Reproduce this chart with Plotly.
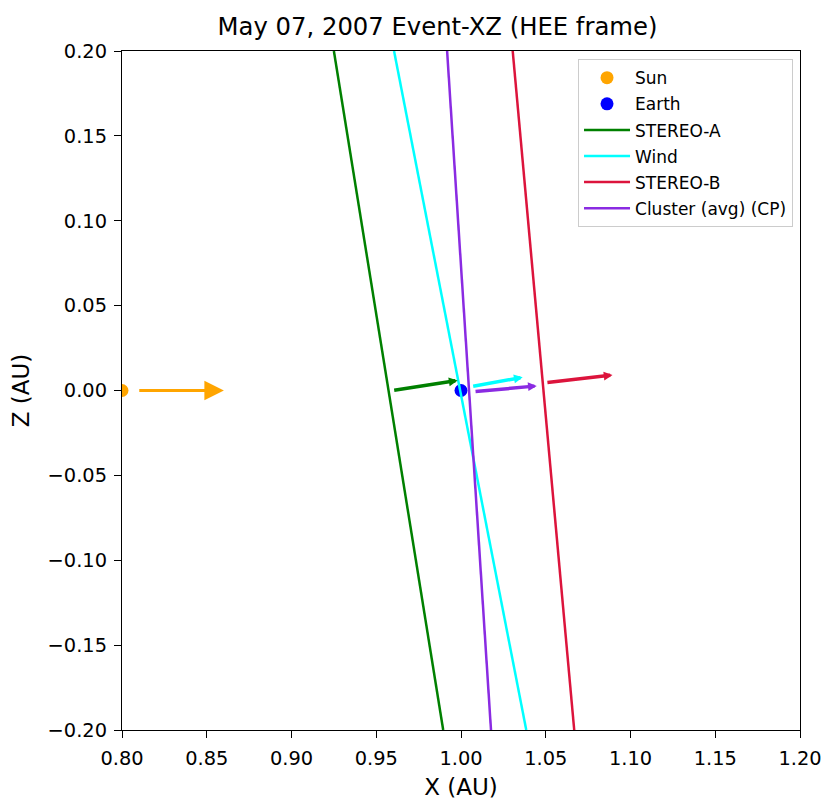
import plotly.graph_objects as go

# Boundary lines (x at z=+0.2 and z=-0.2)
line_names = ["STEREO-A", "Wind", "STEREO-B", "Cluster (avg) (CP)"]
line_colors = ["green", "cyan", "crimson", "blueviolet"]
line_z = [0.20, -0.20]
line_x = {
    "STEREO-A": [0.925, 0.9895],
    "Wind": [0.9605, 1.0385],
    "STEREO-B": [1.0305, 1.0668],
    "Cluster (avg) (CP)": [0.9918, 1.0177],
}

# Normal arrows: tail (x0, z0) -> head (x1, z1)
arrow_x0 = [0.9597, 1.0063, 1.0501, 1.0077]
arrow_z0 = [0.0000, 0.0023, 0.0046, -0.0007]
arrow_x1 = [0.9980, 1.0364, 1.0894, 1.0447]
arrow_z1 = [0.0059, 0.0078, 0.0091, 0.0027]
arrow_colors = ["green", "cyan", "crimson", "blueviolet"]

# Sun-Earth direction arrow
sun_arrow_x = [0.8093, 0.8601]
sun_arrow_z = [0.0, 0.0]

sun_pos = (0.80, 0.0)
earth_pos = (1.00, 0.0)

fig = go.Figure()
fig.add_trace(go.Scatter(x=[sun_pos[0]], y=[sun_pos[1]], mode="markers",
                         marker=dict(color="orange", size=13), name="Sun",
                         legendgroup="a"))
fig.add_trace(go.Scatter(x=[earth_pos[0]], y=[earth_pos[1]], mode="markers",
                         marker=dict(color="blue", size=13), name="Earth",
                         legendgroup="b"))
for i, (n, c) in enumerate(zip(line_names, line_colors)):
    fig.add_trace(go.Scatter(x=line_x[n], y=line_z, mode="lines",
                             line=dict(color=c, width=2.5), name=n,
                             legendgroup="g%d" % i))

annotations = []
for x0, z0, x1, z1, c in zip(arrow_x0, arrow_z0, arrow_x1, arrow_z1, arrow_colors):
    annotations.append(dict(x=x1, y=z1, ax=x0, ay=z0, xref="x", yref="y",
                            axref="x", ayref="y", text="", showarrow=True,
                            arrowhead=2, arrowsize=0.5, arrowwidth=3.5,
                            arrowcolor=c))
annotations.append(dict(x=sun_arrow_x[1], y=sun_arrow_z[1], ax=sun_arrow_x[0],
                        ay=sun_arrow_z[0], xref="x", yref="y", axref="x", ayref="y",
                        text="", showarrow=True, arrowhead=2, arrowsize=1.3,
                        arrowwidth=3, arrowcolor="orange"))

font = "DejaVu Sans"
fig.update_layout(
    width=831, height=800,
    margin=dict(l=114, r=39, t=43, b=78),
    paper_bgcolor="white", plot_bgcolor="white",
    font=dict(family=font, size=19.4, color="black"),
    title=dict(text="May 07, 2007 Event-XZ (HEE frame)", x=429.5 / 831, xanchor="center",
               y=1 - 18 / 800, yanchor="middle", font=dict(size=24.3)),
    annotations=annotations,
    legend=dict(x=0.9897, y=0.988, xanchor="right", yanchor="top",
                bordercolor="#cccccc", borderwidth=1, bgcolor="white",
                font=dict(size=17), tracegroupgap=1, itemwidth=46),
    showlegend=True,
)
fig.update_xaxes(range=[0.8, 1.2], dtick=0.05, tick0=0.8, tickformat=".2f",
                 showgrid=False, zeroline=False, showline=True, linecolor="black",
                 linewidth=1.2, mirror=True, ticks="outside", ticklen=7,
                 ticklabelstandoff=4,
                 tickcolor="black", title=dict(text="X (AU)", standoff=9))
fig.update_yaxes(range=[-0.2, 0.2], dtick=0.05, tick0=-0.2, tickformat=".2f",
                 showgrid=False, zeroline=False, showline=True, linecolor="black",
                 linewidth=1.2, mirror=True, ticks="outside", ticklen=7,
                 ticklabelstandoff=3,
                 tickcolor="black", title=dict(text="Z (AU)", standoff=12))

fig.write_html("out.html")
